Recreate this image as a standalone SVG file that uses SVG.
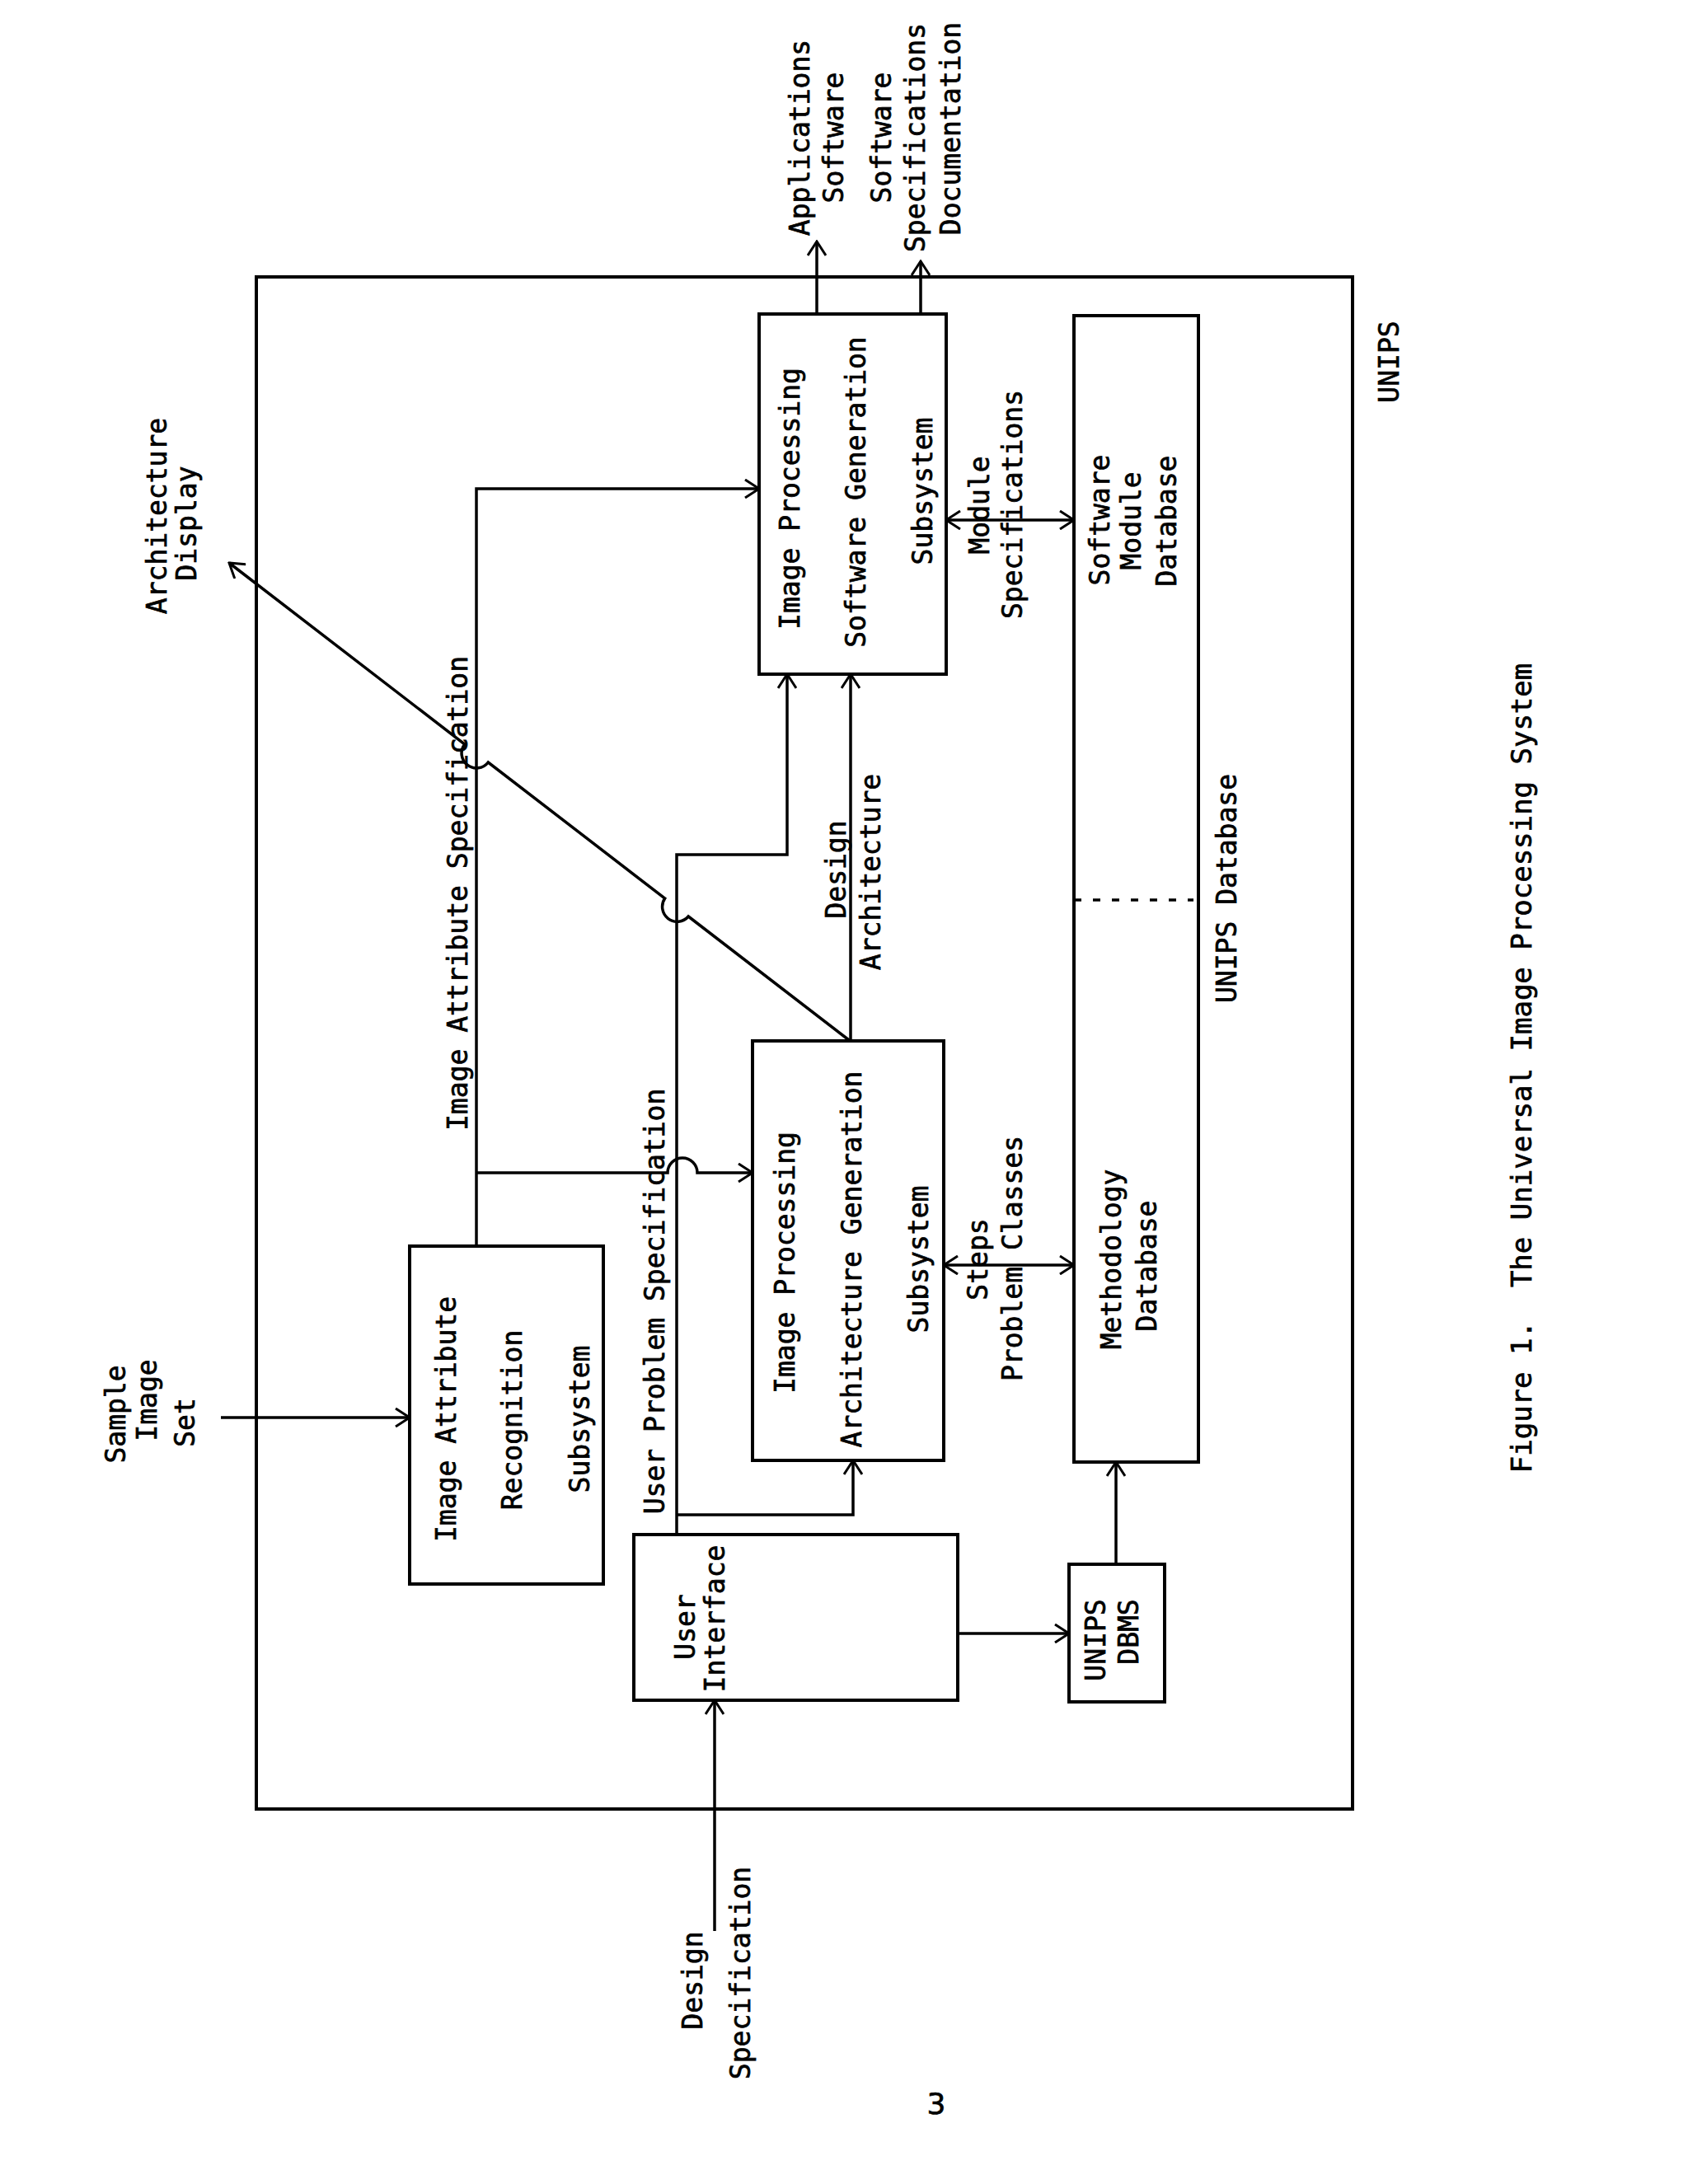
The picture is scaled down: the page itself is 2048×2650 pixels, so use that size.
<svg xmlns="http://www.w3.org/2000/svg" width="2048" height="2650" viewBox="0 0 2048 2650">
<defs>
<style>
.box{fill:none;stroke:#000;stroke-width:4}
.ln{fill:none;stroke:#000;stroke-width:3.5}
.arr{marker-end:url(#ah)}
.bi{marker-start:url(#ah);marker-end:url(#ah)}
.dash{fill:none;stroke:#000;stroke-width:3.5;stroke-dasharray:9 14}
text{font-family:"DejaVu Sans Mono","Liberation Mono",monospace;font-size:33px;fill:#000;stroke:#000;stroke-width:0.7;text-anchor:middle}
.cap{font-size:34px}
.num{font-family:"DejaVu Sans","Liberation Sans",sans-serif;font-size:36px}
</style>
<marker id="ah" viewBox="0 0 22 24" refX="20" refY="12" markerWidth="22" markerHeight="24" markerUnits="userSpaceOnUse" orient="auto-start-reverse">
<path d="M3,1 L20,12 L3,23" fill="none" stroke="#000" stroke-width="3"/>
</marker>
</defs>
<rect width="2048" height="2650" fill="#fff"/>

<g id="unips">
<rect class="box" x="311" y="336" width="1330" height="1859"/>
<text transform="translate(1697,439) rotate(-90)">UNIPS</text>
</g>

<g id="ipsg">
<rect class="box" x="921" y="381" width="227" height="437"/>
<text transform="translate(970,605) rotate(-90)">Image Processing</text>
<text transform="translate(1050,597) rotate(-90)">Software Generation</text>
<text transform="translate(1131,596) rotate(-90)">Subsystem</text>
</g>

<g id="ipag">
<rect class="box" x="913" y="1263" width="232" height="509"/>
<text transform="translate(964,1532) rotate(-90)">Image Processing</text>
<text transform="translate(1045,1528) rotate(-90)">Architecture Generation</text>
<text transform="translate(1126,1528) rotate(-90)">Subsystem</text>
</g>

<g id="iar">
<rect class="box" x="497" y="1512" width="235" height="410"/>
<text transform="translate(553,1722) rotate(-90)">Image Attribute</text>
<text transform="translate(633,1723) rotate(-90)">Recognition</text>
<text transform="translate(715,1722) rotate(-90)">Subsystem</text>
</g>

<g id="ui">
<rect class="box" x="769" y="1862" width="393" height="201"/>
<text transform="translate(843,1974) rotate(-90)">User</text>
<text transform="translate(879,1964) rotate(-90)">Interface</text>
</g>

<g id="dbms">
<rect class="box" x="1297" y="1898" width="116" height="167"/>
<text transform="translate(1341,1990) rotate(-90)">UNIPS</text>
<text transform="translate(1381,1980) rotate(-90)">DBMS</text>
</g>

<g id="unipsdb">
<rect class="box" x="1303" y="383" width="151" height="1391"/>
<line class="dash" x1="1303" y1="1092" x2="1448" y2="1092"/>
<text transform="translate(1500,1078) rotate(-90)">UNIPS Database</text>
</g>

<g id="smdb">
<text transform="translate(1346,631) rotate(-90)">Software</text>
<text transform="translate(1384,632) rotate(-90)">Module</text>
<text transform="translate(1427,632) rotate(-90)">Database</text>
</g>

<g id="mdb">
<text transform="translate(1360,1528) rotate(-90)">Methodology</text>
<text transform="translate(1403,1536) rotate(-90)">Database</text>
</g>

<g id="out-apps">
<text transform="translate(982,167) rotate(-90)">Applications</text>
<text transform="translate(1023,167) rotate(-90)">Software</text>
</g>

<g id="out-docs">
<text transform="translate(1081,167) rotate(-90)">Software</text>
<text transform="translate(1122,167) rotate(-90)">Specifications</text>
<text transform="translate(1165,156) rotate(-90)">Documentation</text>
</g>

<g id="out-archdisplay">
<text transform="translate(202,626) rotate(-90)">Architecture</text>
<text transform="translate(238,635) rotate(-90)">Display</text>
</g>

<g id="in-sample">
<text transform="translate(152,1716) rotate(-90)">Sample</text>
<text transform="translate(190,1699) rotate(-90)">Image</text>
<text transform="translate(236,1726) rotate(-90)">Set</text>
</g>

<g id="in-designspec">
<text transform="translate(852,2403) rotate(-90)">Design</text>
<text transform="translate(910,2394) rotate(-90)">Specification</text>
</g>

<g id="connectors">
<path class="ln arr" d="M268,1720 L497,1720"/>
<path class="ln arr" d="M578,1512 L578,593 L921,593"/>
<path class="ln arr" d="M578,1423 L810,1423 A18,18 0 0 1 846,1423 L913,1423"/>
<path class="ln arr" d="M821,1862 L821,1037 L955,1037 L955,818"/>
<path class="ln arr" d="M821,1838 L1035,1838 L1035,1772"/>
<path class="ln arr" d="M1032,1263 L1032,818"/>
<path class="ln arr" d="M1030,1262 L835.2,1112 A18,18 0 0 1 806.7,1090.1 L592.3,925 A18,18 0 0 1 563.8,903 L278,683"/>
<path class="ln arr" d="M991,381 L991,293"/>
<path class="ln arr" d="M1117,381 L1117,317"/>
<path class="ln bi" d="M1148,631 L1303,631"/>
<path class="ln bi" d="M1145,1535 L1303,1535"/>
<path class="ln arr" d="M1162,1982 L1297,1982"/>
<path class="ln arr" d="M1354,1898 L1354,1774"/>
<path class="ln arr" d="M867,2343 L867,2063"/>
<text transform="translate(1026,1055) rotate(-90)">Design</text>
<text transform="translate(1068,1058) rotate(-90)">Architecture</text>
<text transform="translate(567,1084) rotate(-90)">Image Attribute Specification</text>
<text transform="translate(806,1579) rotate(-90)">User Problem Specification</text>
<text transform="translate(1200,613) rotate(-90)">Module</text>
<text transform="translate(1240,612) rotate(-90)">Specifications</text>
<text transform="translate(1198,1528) rotate(-90)">Steps</text>
<text transform="translate(1240,1527) rotate(-90)">Problem Classes</text>
</g>

<g id="caption">
<text class="cap" transform="translate(1858,1296) rotate(-90)" xml:space="preserve">Figure 1.  The Universal Image Processing System</text>
<text class="num" x="1136" y="2565">3</text>
</g>
</svg>
